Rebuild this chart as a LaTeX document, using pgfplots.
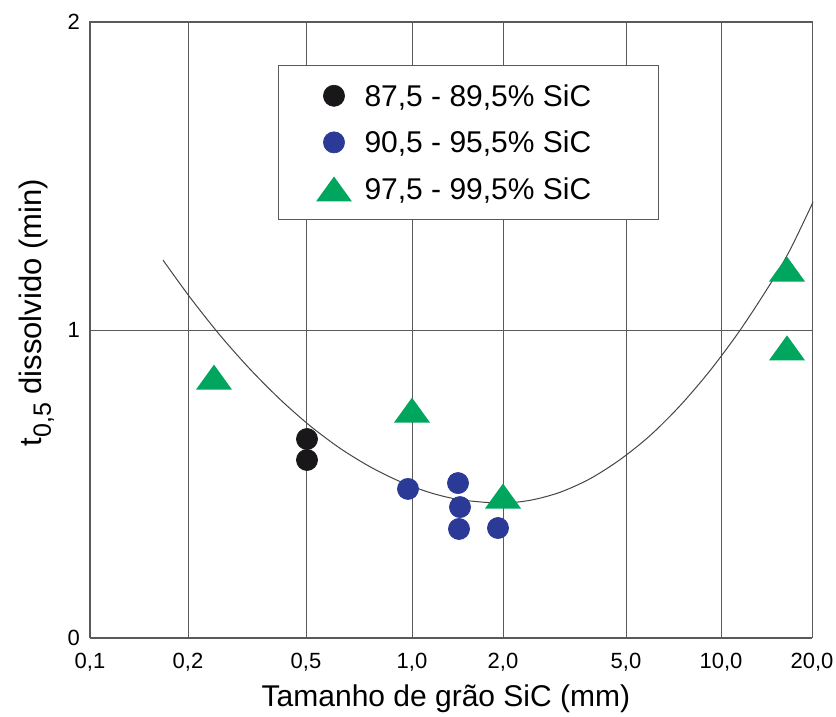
\documentclass[border=0pt]{standalone}
\usepackage{pgfplots}
\pgfplotsset{compat=1.18}
\usepackage{fontspec}
\setmainfont{Liberation Sans}
\definecolor{cblack}{HTML}{1A171B}
\definecolor{cblue}{HTML}{2B3A97}
\definecolor{cgreen}{HTML}{00A65D}
\definecolor{cgrid}{HTML}{5A5A5A}
\definecolor{ccurve}{HTML}{444444}
\pgfdeclareplotmark{flattri}{%
  \pgfpathmoveto{\pgfqpoint{0pt}{6.25pt}}%
  \pgfpathlineto{\pgfqpoint{-9pt}{-6.25pt}}%
  \pgfpathlineto{\pgfqpoint{9pt}{-6.25pt}}%
  \pgfpathclose\pgfusepathqfill}
\begin{document}
\begin{tikzpicture}
\begin{axis}[
  scale only axis, width=361pt, height=308pt,
  xmin=90, xmax=812, ymin=0, ymax=2,
  xtick={90,188,306,412,503,626,721,812},
  xticklabels={{0,1},{0,2},{0,5},{1,0},{2,0},{5,0},{10,0},{20,0}},
  ytick={0,1,2}, yticklabels={0,1,2},
  xmajorgrids, ymajorgrids,
  major grid style={cgrid, line width=0.45pt},
  axis line style={cgrid, line width=0.5pt},
  major tick length=0pt,
  tick label style={font=\fontsize{11}{13}\selectfont},
  xticklabel style={anchor=base, yshift=-15.5pt, inner xsep=0pt, inner ysep=1pt},
  yticklabel style={xshift=-1.5pt},
  xlabel={Tamanho de grão SiC (mm)},
  xlabel style={at={(axis description cs:0.493,-0.112)}, anchor=base, inner sep=0pt, font=\fontsize{15}{18}\selectfont},
  ylabel={t\raisebox{-4.5pt}{\fontsize{12.5}{12.5}\selectfont 0,5} dissolvido (min)},
  ylabel style={at={(axis description cs:-0.0665,0.528)}, anchor=base, inner sep=0pt, font=\fontsize{15.5}{18}\selectfont},
  clip=false,
  legend cell align=left,
  legend style={at={(axis cs:278,1.8604)}, anchor=north west, draw=cgrid, line width=0.5pt, fill=white,
    inner xsep=0pt, inner ysep=3.5pt, column sep=0pt, row sep=0pt,
    nodes={inner sep=0pt, text height=16.6pt, text depth=6.2pt, font=\fontsize{15}{18}\selectfont}},
  legend image code/.code={\path (-27.5pt,-11.4pt) (15pt,11.4pt); \draw[#1] plot coordinates {(0pt,0pt)};},
]
\addplot[smooth, color=ccurve, line width=0.5pt, forget plot] coordinates {
(163,1.227) (190,1.106) (220,0.983) (250,0.873) (280,0.775) (310,0.689)
(340,0.616) (370,0.556) (400,0.508) (430,0.472) (460,0.449) (500,0.438)
(530,0.447) (560,0.473) (590,0.517) (620,0.579) (650,0.657) (680,0.754)
(710,0.868) (740,0.999) (770,1.148) (790,1.260) (813,1.415)};
\addplot[only marks, mark=*, mark size=5.3pt, mark options={draw=cblack, fill=cblack, line width=0.3pt}] coordinates {
(307,0.646) (307,0.578)};
\addlegendentry{\makebox[147pt][l]{87,5 - 89,5\% SiC}}
\addplot[only marks, mark=*, mark size=5.3pt, mark options={draw=cblue, fill=cblue, line width=0.3pt}] coordinates {
(408,0.484) (458,0.503) (460,0.425) (459,0.354) (498,0.357)};
\addlegendentry{\makebox[147pt][l]{90,5 - 95,5\% SiC}}
\addplot[only marks, mark=flattri, mark options={fill=cgreen}, color=cgreen] coordinates {
(214,0.847) (412,0.740) (503,0.461) (787,1.198) (787,0.942)};
\addlegendentry{\makebox[147pt][l]{97,5 - 99,5\% SiC}}
\path (axis cs:0,-0.2565) rectangle (axis cs:836,2.0714);
\end{axis}
\end{tikzpicture}
\end{document}
